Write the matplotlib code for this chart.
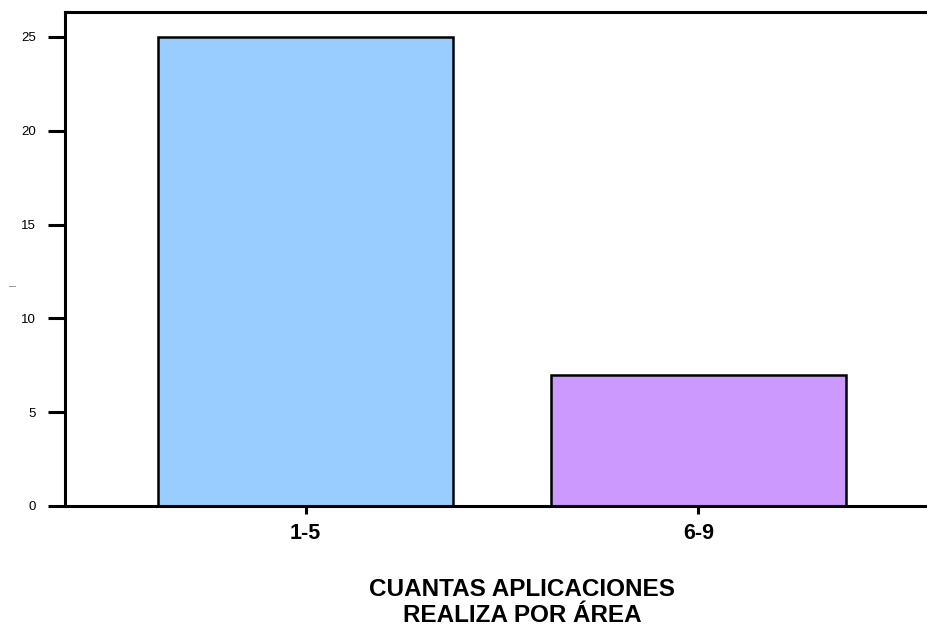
import numpy as np
import matplotlib.pyplot as plt

plt.rcParams['font.family'] = ['Liberation Sans', 'DejaVu Sans']

# data
categories = ['1-5', '6-9']
counts = [25, 7]
bar_colors = ['#99CCFF', '#CC99FF']
y_ticks = [0, 5, 10, 15, 20, 25]

fig = plt.figure(figsize=(9.28, 6.29), dpi=100)
ax = fig.add_axes([65 / 928, 1 - 506 / 629, 1 - 65 / 928, (506 - 12) / 629])

x = np.arange(len(categories))
ax.bar(x, counts, width=0.75, color=bar_colors, edgecolor='black', linewidth=1.8, zorder=2)

ax.set_xlim(-0.612, 1.584)
ax.set_ylim(0, 26.33)

ax.set_xticks(x)
ax.set_xticklabels(categories, fontsize=15.5, fontweight='bold')
ax.set_yticks(y_ticks)
ax.set_yticklabels([str(v) for v in y_ticks], fontsize=9.5)

ax.tick_params(axis='y', length=12, width=2.2, pad=9)
ax.tick_params(axis='x', length=6, width=2.2, pad=6)

for side in ['left', 'bottom', 'top']:
    ax.spines[side].set_linewidth(2.2)
ax.spines['right'].set_visible(False)

# axis titles
fig.text(522 / 928, 1 - 589 / 629, 'CUANTAS APLICACIONES',
         ha='center', va='center', fontsize=17.5, fontweight='bold')
fig.text(522 / 928, 1 - 616 / 629, 'REALIZA POR ÁREA',
         ha='center', va='center', fontsize=17.5, fontweight='bold')
fig.text(13 / 928, 1 - 287 / 629, '–', ha='center', va='center', fontsize=9, color='#888888')

fig.savefig('out.png', dpi=100)
